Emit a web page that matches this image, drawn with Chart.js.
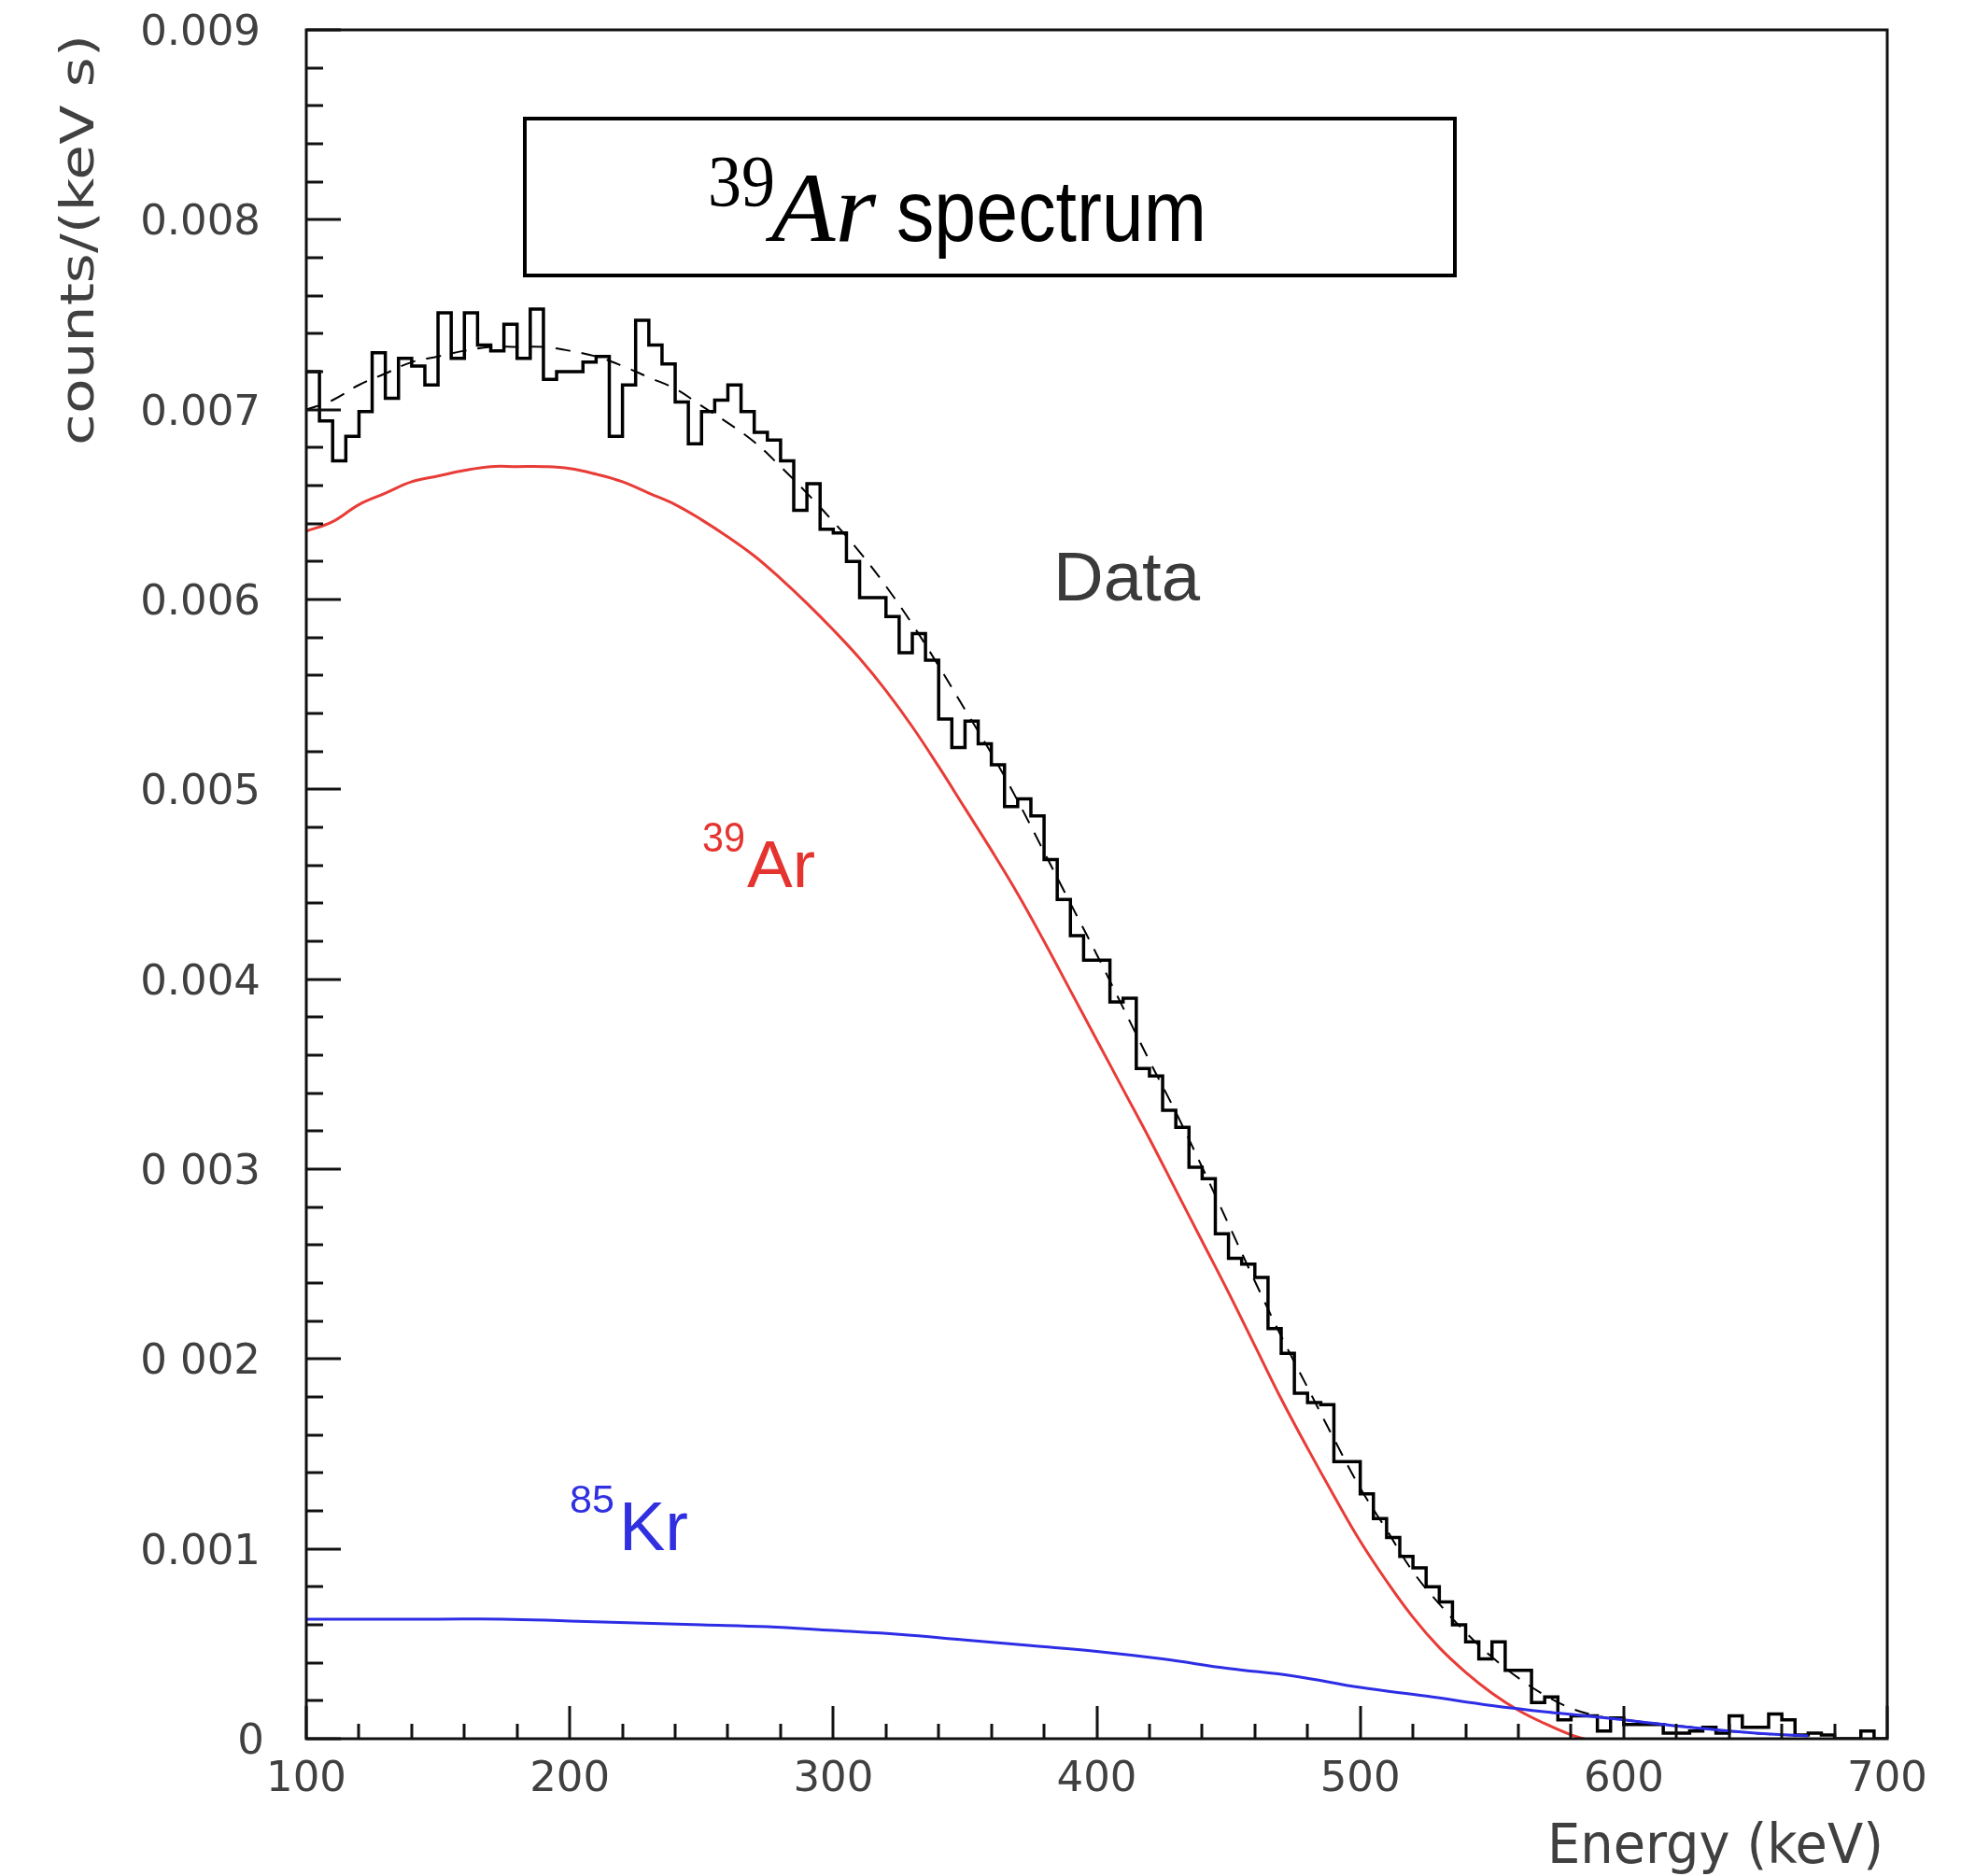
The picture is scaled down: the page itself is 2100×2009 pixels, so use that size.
<!DOCTYPE html>
<html><head><meta charset="utf-8">
<script src="https://cdn.jsdelivr.net/npm/chart.js@4.4.1/dist/chart.umd.min.js"></script>
<style>html,body{margin:0;padding:0;background:#fff;}#wrap{width:2100px;height:2009px;position:relative;}</style>
</head><body><div id="wrap"><canvas id="c" width="2100" height="2009"></canvas></div>
<script>
// ---- data ----
const binEdges = [100,105,110,115,120,125,130,135,140,145,150,155,160,165,170,175,180,185,190,195,
200,205,210,215,220,225,230,235,240,245,250,255,260,265,270,275,280,285,290,295,
300,305,310,315,320,325,330,335,340,345,350,355,360,365,370,375,380,385,390,395,
400,405,410,415,420,425,430,435,440,445,450,455,460,465,470,475,480,485,490,495,
500,505,510,515,520,525,530,535,540,545,550,555,560,565,570,575,580,585,590,595,
600,605,610,615,620,625,630,635,640,645,650,655,660,665,670,675,680,685,690,695,700];
const dataCounts = [
0.00720,0.00694,0.00673,0.00686,0.00699,0.00730,0.00706,0.00727,0.00723,0.00713,
0.00751,0.00727,0.00751,0.00734,0.00731,0.00745,0.00727,0.00753,0.00716,0.00720,
0.00720,0.00725,0.00728,0.00686,0.00713,0.00747,0.00734,0.00724,0.00704,0.00682,
0.00699,0.00705,0.00713,0.00699,0.00688,0.00684,0.00673,0.00647,0.00661,0.00637,
0.00635,0.00620,0.00601,0.00601,0.00591,0.00572,0.00582,0.00568,0.00537,0.00522,
0.00536,0.00524,0.00513,0.00491,0.00495,0.00486,0.00463,0.00442,0.00423,0.00410,
0.00410,0.00388,0.00390,0.00353,0.00349,0.00331,0.00322,0.00301,0.00295,0.00266,
0.00253,0.00250,0.00243,0.00216,0.00203,0.00182,0.00177,0.00176,0.00146,0.00146,
0.00129,0.00116,0.00106,0.00096,0.00090,0.00080,0.00072,0.00060,0.00051,0.00042,
0.00051,0.00036,0.00036,0.00019,0.00022,0.00010,0.00012,0.00012,0.00004,0.00011,
0.000075,0.000075,0.000075,0.00003,0.00003,0.00004,0.00006,0.00003,0.00012,0.00006,
0.00006,0.00013,0.00010,0.00002,0.00003,0.00002,0,0,0.00004,0];

const fitEnergy = [100,110,120,130,140,150,160,170,180,190,200,210,220,230,240,250,260,270,280,290,
300,310,320,330,340,350,360,370,380,390,400,410,420,430,440,450,460,470,480,490,
500,510,520,530,540,550,560,570,580,590,600,620,640,660,670];
const fitModel = [0.00700,0.00705,0.00713,0.00719,0.00725,0.00728,0.00731,0.00733,0.00733,0.00733,
0.00731,0.00728,0.00723,0.00717,0.00711,0.00702,0.00693,0.00683,0.00670,0.00656,
0.00641,0.00625,0.00607,0.00587,0.00565,0.00542,0.00519,0.00494,0.00467,0.00440,
0.00413,0.00385,0.00357,0.00330,0.00301,0.00271,0.00241,0.00212,0.00185,0.00158,
0.00132,0.00110,0.00088,0.00071,0.00056,0.00043,0.00032,0.00023,0.00016,0.00012,
0.00010,0.00007,0.00004,0.00002,0.000015];

const arEnergy = [100,110,120,130,140,150,160,170,180,190,200,210,220,230,240,250,260,270,280,290,
300,310,320,330,340,350,360,370,380,390,400,410,420,430,440,450,460,470,480,490,
500,510,520,530,540,550,560,570,580,585];
const arModel = [0.00636,0.00641,0.00650,0.00656,0.00662,0.00665,0.00668,0.00670,0.00670,0.00670,
0.00669,0.00666,0.00662,0.00656,0.00650,0.00642,0.00633,0.00623,0.00611,0.00598,
0.00584,0.00569,0.00552,0.00533,0.00512,0.00490,0.00468,0.00445,0.00420,0.00394,
0.00368,0.00342,0.00316,0.00289,0.00262,0.00235,0.00207,0.00179,0.00153,0.00128,
0.00104,0.00083,0.00064,0.00048,0.00035,0.00024,0.00015,0.00008,0.00002,0];

const krEnergy = [100,125,150,175,200,225,250,275,300,325,350,375,400,425,450,475,500,525,550,575,600,625,650,670];
const krModel = [0.00063,0.00063,0.00063,0.00063,0.00062,0.00061,0.00060,0.00059,0.00057,0.00055,
0.00052,0.00049,0.00046,0.00042,0.00037,0.00033,0.00027,0.000225,0.000175,0.000135,0.00010,0.00006,0.00003,0.000015];

const xTickValues = [100,200,300,400,500,600,700];
const xTickLabels = ['100','200','300','400','500','600','700'];
const yTickValues = [0,0.001,0.002,0.003,0.004,0.005,0.006,0.007,0.008,0.009];
const yTickLabels = ['0','0.001','0 002','0 003','0.004','0.005','0.006','0.007','0.008','0.009'];
const xTitle = 'Energy (keV)';
const yTitle = 'counts/(keV s)';

// ---- build datasets ----
const histPts = binEdges.map((e,i)=>({x:e, y:dataCounts[Math.min(i,dataCounts.length-1)]}));
const fitPts = fitEnergy.map((e,i)=>({x:e,y:fitModel[i]}));
const arPts = arEnergy.map((e,i)=>({x:e,y:arModel[i]}));
const krPts = krEnergy.map((e,i)=>({x:e,y:krModel[i]}));

function fitText(ctx, text, x, y, font, width, align, color){
  ctx.save();
  ctx.font = font; ctx.fillStyle = color || '#404040';
  ctx.textBaseline = 'alphabetic';
  const w = ctx.measureText(text).width;
  const s = width ? width / w : 1;
  ctx.translate(x, y); ctx.scale(s, 1);
  ctx.textAlign = align || 'left';
  ctx.fillText(text, 0, 0);
  ctx.restore();
}

const decor = {
  id: 'decor',
  afterDatasetsDraw(chart){
    const {ctx, chartArea:a, scales:{x, y}} = chart;
    ctx.save();
    ctx.strokeStyle = '#111'; ctx.lineWidth = 3;
    for (let i = 0; i <= 45; i++){
      const py = Math.round(y.getPixelForValue(i*0.0002));
      const len = (i % 5 === 0) ? 37 : 18;
      ctx.beginPath(); ctx.moveTo(a.left, py); ctx.lineTo(a.left+len, py); ctx.stroke();
    }
    for (let i = 0; i <= 30; i++){
      const px = Math.round(x.getPixelForValue(100 + i*20));
      const len = (i % 5 === 0) ? 35 : 16;
      ctx.beginPath(); ctx.moveTo(px, a.bottom); ctx.lineTo(px, a.bottom-len); ctx.stroke();
    }
    ctx.strokeRect(a.left, a.top, a.right-a.left, a.bottom-a.top);
    ctx.restore();

    yTickValues.forEach((v,i)=>{
      const py = y.getPixelForValue(v);
      fitText(ctx, yTickLabels[i], i===0 ? 283 : 279, py+16, '45px "DejaVu Sans"', null, 'right');
    });
    xTickValues.forEach((v,i)=>{
      const px = x.getPixelForValue(v);
      fitText(ctx, xTickLabels[i], px, 1918, '45px "DejaVu Sans"', null, 'center');
    });
    fitText(ctx, xTitle, 2017, 1995, '58px "DejaVu Sans"', 360, 'right');
    ctx.save();
    ctx.translate(100, 477); ctx.rotate(-Math.PI/2);
    fitText(ctx, yTitle, 0, 0, '50px "DejaVu Sans"', 440, 'left');
    ctx.restore();

    ctx.save();
    ctx.strokeStyle = '#000'; ctx.lineWidth = 4;
    ctx.strokeRect(562, 127, 996, 168);
    ctx.restore();
    fitText(ctx, '39', 758, 220, '78px "Liberation Serif"', 72, 'left', '#000');
    fitText(ctx, 'Ar', 826, 258, 'italic 106px "Liberation Serif"', 112, 'left', '#000');
    fitText(ctx, 'spectrum', 960, 258, '92px "Liberation Sans"', 332, 'left', '#000');

    fitText(ctx, 'Data', 1128, 643, '75px "Liberation Sans"', 157, 'left', '#3a3a3a');
    fitText(ctx, '39', 752, 912, '44px "Liberation Sans"', 46, 'left', 'rgb(228,52,48)');
    fitText(ctx, 'Ar', 800, 950, '70px "Liberation Sans"', 73, 'left', 'rgb(228,52,48)');
    fitText(ctx, '85', 610, 1620, '42px "Liberation Sans"', 48, 'left', 'rgb(48,48,225)');
    fitText(ctx, 'Kr', 663, 1660, '74px "Liberation Sans"', 74, 'left', 'rgb(48,48,225)');
  }
};

new Chart(document.getElementById('c'), {
  type: 'line',
  data: { datasets: [
    { label:'Data', data: histPts, stepped: true, borderColor:'#000', borderWidth:3.5, pointRadius:0, fill:false, order:2 },
    { label:'Fit', data: fitPts, borderColor:'#000', borderWidth:2, borderDash:[16,12], pointRadius:0, tension:0.4, fill:false, order:1 },
    { label:'39Ar', data: arPts, borderColor:'rgb(232,60,55)', borderWidth:3, pointRadius:0, tension:0.4, fill:false, order:3 },
    { label:'85Kr', data: krPts, borderColor:'rgb(45,45,230)', borderWidth:3, pointRadius:0, tension:0.4, fill:false, order:0 }
  ]},
  options: {
    responsive:false, animation:false, devicePixelRatio:1,
    layout:{ padding:{ left:328, right:79, top:32, bottom:147 } },
    plugins:{ legend:{display:false}, tooltip:{enabled:false} },
    scales:{
      x:{ type:'linear', min:100, max:700, display:false },
      y:{ type:'linear', min:0, max:0.009, display:false }
    }
  },
  plugins:[decor]
});
</script></body></html>
